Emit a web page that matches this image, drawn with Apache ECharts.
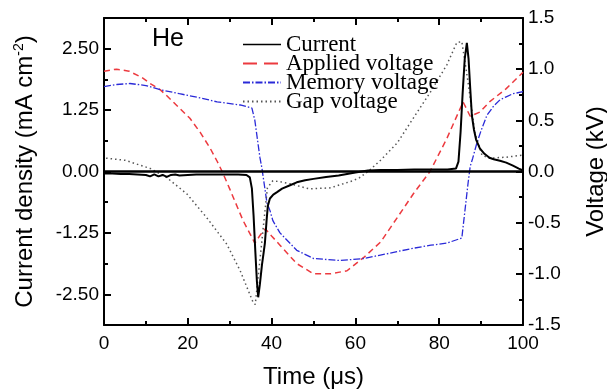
<!DOCTYPE html>
<html><head><meta charset="utf-8">
<script src="https://cdn.jsdelivr.net/npm/echarts@6/dist/echarts.min.js"></script>
<style>html,body{margin:0;padding:0;background:#fff;overflow:hidden}#chart{width:607px;height:390px}</style>
</head><body><div id="chart"></div>
<script>
// Axis ticks
const xTickValues = [0, 20, 40, 60, 80, 100];
const leftTickValues = [-2.5, -1.25, 0, 1.25, 2.5];
const leftMinorValues = [-1.875, -0.625, 0.625, 1.875];
const rightTickValues = [-1.5, -1.0, -0.5, 0, 0.5, 1.0, 1.5];

// Discharge current density (mA cm^-2) vs time (µs)
const currentTime = [0, 2, 4, 6, 8, 10, 11, 12, 13, 14, 15, 16, 17, 18, 20, 22, 24, 26, 28, 30, 32, 34, 34.8, 35.3, 35.7, 36.1, 36.5, 36.8, 37.2, 37.7, 38.1, 38.4, 38.8, 39.1, 39.6, 40.4, 41.3, 42.5, 44.4, 46, 48, 50, 53, 56, 60, 63, 66, 70, 74, 78, 82, 84, 84.6, 85.1, 85.6, 86.1, 86.6, 87.0, 87.4, 87.8, 88.3, 88.8, 89.7, 90.8, 92, 93, 94.5, 96, 97.6, 99, 100];
const currentDensity = [-0.04, -0.04, -0.05, -0.05, -0.06, -0.07, -0.1, -0.06, -0.1, -0.07, -0.11, -0.07, -0.06, -0.08, -0.07, -0.06, -0.06, -0.06, -0.06, -0.06, -0.06, -0.07, -0.12, -0.35, -0.9, -1.6, -2.25, -2.56, -2.3, -1.9, -1.65, -1.46, -1.0, -0.7, -0.55, -0.47, -0.42, -0.35, -0.28, -0.22, -0.18, -0.15, -0.11, -0.08, -0.02, 0.02, 0.03, 0.03, 0.04, 0.04, 0.04, 0.06, 0.2, 0.8, 1.6, 2.3, 2.62, 2.3, 1.7, 1.14, 0.85, 0.65, 0.47, 0.36, 0.28, 0.25, 0.22, 0.18, 0.12, 0.06, 0.02];

// Applied voltage (kV)
const appliedTime = [0, 3, 6, 9, 11, 13.4, 15, 18, 20.5, 23, 25.3, 27, 28.2, 30, 33.2, 36, 37.3, 38.5, 40, 42, 46, 50, 54, 58, 62, 66, 70, 73.8, 77.8, 81.8, 85.7, 87.4, 89.7, 92, 96, 100];
const appliedKV = [0.98, 1.0, 0.98, 0.92, 0.86, 0.8, 0.74, 0.62, 0.52, 0.38, 0.23, 0.1, 0.0, -0.17, -0.48, -0.7, -0.62, -0.56, -0.63, -0.72, -0.9, -1.0, -1.0, -0.97, -0.84, -0.69, -0.45, -0.22, 0.0, 0.32, 0.68, 0.54, 0.58, 0.68, 0.81, 0.97];

// Memory voltage (kV)
const memoryTime = [0, 3, 6.2, 10, 13.4, 18, 22.9, 27, 32.5, 35.3, 36, 37.2, 37.7, 38.9, 39.6, 40.3, 42, 46, 50, 56.3, 62, 68, 73.8, 78, 81.8, 85.4, 86.9, 87.4, 88, 89, 90, 91.4, 93, 94.5, 96, 97.6, 100];
const memoryKV = [0.83, 0.85, 0.86, 0.84, 0.8, 0.76, 0.72, 0.68, 0.65, 0.62, 0.5, 0.14, 0.03, -0.31, -0.38, -0.48, -0.6, -0.77, -0.85, -0.87, -0.85, -0.8, -0.75, -0.72, -0.7, -0.65, -0.11, 0.05, 0.13, 0.28, 0.4, 0.55, 0.64, 0.7, 0.73, 0.76, 0.78];

// Gap voltage (kV)
const gapTime = [0.5, 5, 11, 15, 19.8, 24.5, 29.3, 32.5, 35.6, 36.1, 37, 38, 39, 40.3, 42, 44.4, 49, 54, 59.4, 61, 63, 66, 70, 73.8, 77.8, 81.8, 84.2, 85.4, 86.9, 88.5, 90.2, 92, 96, 100];
const gapKV = [0.13, 0.11, 0.03, -0.06, -0.22, -0.45, -0.71, -0.97, -1.28, -1.3, -0.95, -0.55, -0.16, -0.09, -0.1, -0.12, -0.17, -0.16, -0.09, -0.06, 0.0, 0.11, 0.28, 0.52, 0.77, 1.04, 1.26, 1.27, 0.87, 0.38, 0.16, 0.13, 0.14, 0.16];

const zip = (xs, ys) => xs.map((x, i) => [x, ys[i]]);

const sans = 'Liberation Sans, Arial, sans-serif';
const serif = 'Liberation Serif, Times New Roman, serif';
const axisLine = { show: true, onZero: false, lineStyle: { color: '#000', width: 2 } };

const chart = echarts.init(document.getElementById('chart'), null, { renderer: 'canvas', width: 607, height: 390 });

chart.setOption({
  animation: false,
  backgroundColor: '#fff',
  grid: { left: 104, right: 84, top: 18, bottom: 65, containLabel: false, outerBoundsMode: 'none' },
  legend: {
    orient: 'vertical',
    left: 237,
    top: 28,
    itemWidth: 38,
    itemHeight: 10,
    itemGap: -4,
    itemStyle: { opacity: 0 },
    textStyle: { fontFamily: serif, fontSize: 23, color: '#000' },
    data: [
      { name: 'Current', lineStyle: { width: 1.5 } },
      { name: 'Applied voltage', lineStyle: { type: [14, 7] } },
      { name: 'Memory voltage' },
      { name: 'Gap voltage' }
    ]
  },
  graphic: [{
    type: 'text', left: 152, top: 27,
    style: { text: 'He', font: '25px ' + sans, fill: '#000' }
  }],
  xAxis: [{
    type: 'value', position: 'bottom', min: 0, max: 100, interval: 20,
    name: 'Time (μs)', nameLocation: 'middle', nameGap: 40,
    nameTextStyle: { fontFamily: sans, fontSize: 24, color: '#000' },
    axisLine,
    axisTick: { inside: true, length: 7, lineStyle: { color: '#000', width: 2 } },
    minorTick: { show: true, splitNumber: 2, length: 4, lineStyle: { color: '#000', width: 2 } },
    axisLabel: { fontFamily: sans, fontSize: 19, color: '#000', margin: 9,
      formatter: v => xTickValues.includes(v) ? String(v) : '' },
    splitLine: { show: false }
  }, {
    type: 'value', position: 'top', min: 0, max: 100, interval: 20,
    axisLine,
    axisTick: { inside: true, length: 7, lineStyle: { color: '#000', width: 2 } },
    minorTick: { show: true, splitNumber: 2, length: 4, lineStyle: { color: '#000', width: 2 } },
    axisLabel: { show: false },
    splitLine: { show: false }
  }],
  yAxis: [{
    type: 'value', position: 'left', min: -3.125, max: 3.125,
    name: '{a|Current density (mA cm}{s|-2}{a|)}', nameLocation: 'middle', nameGap: 66,
    nameTextStyle: {
      rich: {
        a: { fontFamily: sans, fontSize: 24, color: '#000' },
        s: { fontFamily: sans, fontSize: 14, color: '#000', verticalAlign: 'top', padding: [0, 0, 12, 0] }
      }
    },
    axisLine,
    axisTick: { inside: true, length: 7, customValues: leftTickValues, lineStyle: { color: '#000', width: 2 } },
    axisLabel: { fontFamily: sans, fontSize: 19, color: '#000', margin: 5, customValues: leftTickValues,
      formatter: v => v.toFixed(2) },
    splitLine: { show: false }
  }, {
    type: 'value', position: 'right', min: -1.5, max: 1.5, interval: 0.5,
    name: 'Voltage (kV)', nameLocation: 'middle', nameGap: 61, nameRotate: 90,
    nameTextStyle: { fontFamily: sans, fontSize: 24, color: '#000' },
    axisLine,
    axisTick: { inside: true, length: 7, lineStyle: { color: '#000', width: 2 } },
    minorTick: { show: true, splitNumber: 2, length: 4, lineStyle: { color: '#000', width: 2 } },
    axisLabel: { fontFamily: sans, fontSize: 19, color: '#000', margin: 5,
      formatter: v => rightTickValues.includes(v) ? v.toFixed(1) : '' },
    splitLine: { show: false }
  }, {
    type: 'value', position: 'left', min: -3.125, max: 3.125,
    axisLine: { show: false },
    axisTick: { inside: true, length: 4, customValues: leftMinorValues, lineStyle: { color: '#000', width: 2 } },
    axisLabel: { show: false },
    splitLine: { show: false }
  }],
  series: [{
    name: 'Current', type: 'line', xAxisIndex: 0, yAxisIndex: 0, z: 5,
    symbol: 'none', data: zip(currentTime, currentDensity),
    itemStyle: { color: '#000' },
    lineStyle: { color: '#000', width: 2 },
    markLine: {
      silent: true, symbol: 'none', label: { show: false },
      lineStyle: { color: '#000', width: 2.5, type: 'solid' },
      data: [{ yAxis: 0 }]
    }
  }, {
    name: 'Applied voltage', type: 'line', xAxisIndex: 0, yAxisIndex: 1, z: 3,
    symbol: 'none', data: zip(appliedTime, appliedKV),
    itemStyle: { color: '#ec3a3f' },
    lineStyle: { color: '#ec3a3f', width: 1.5, type: [6, 4] }
  }, {
    name: 'Memory voltage', type: 'line', xAxisIndex: 0, yAxisIndex: 1, z: 3,
    symbol: 'none', data: zip(memoryTime, memoryKV),
    itemStyle: { color: '#2a2ad8' },
    lineStyle: { color: '#2a2ad8', width: 1.3, type: [7, 2, 1.5, 2] }
  }, {
    name: 'Gap voltage', type: 'line', xAxisIndex: 0, yAxisIndex: 1, z: 3,
    symbol: 'none', data: zip(gapTime, gapKV),
    itemStyle: { color: '#555' },
    lineStyle: { color: '#555', width: 1.5, type: [1.5, 3] }
  }]
});
</script>
</body></html>
